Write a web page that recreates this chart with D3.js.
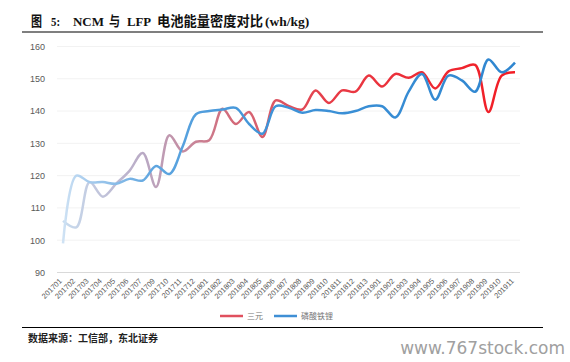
<!DOCTYPE html>
<html><head><meta charset="utf-8">
<script src="https://cdn.jsdelivr.net/npm/d3@7"></script>
<style>body{margin:0;background:#fff;}svg{display:block;}</style>
</head><body>
<script>
const categories = ["201701","201702","201703","201704","201705","201706","201707","201709","201710","201711","201712","201801","201802","201803","201804","201805","201806","201807","201808","201809","201810","201811","201812","201813","201901","201902","201903","201904","201905","201906","201907","201908","201909","201910","201911"];
const ncm = [106,104,118,113.5,117.5,121.5,127,116.5,132.5,127.5,130.5,131,140.7,136,139.7,132,143.3,141.5,140.5,146.4,142.5,146.4,146,151,147.6,151.5,150.3,152,147,152.3,153.3,154.3,139.7,151,152];
const lfp = [99,120,118,118,117.5,119,118.5,123,120.5,129,139,140,140.5,141,136,133,141.5,141,139.5,140.3,140,139.3,140,141.5,141.5,138,146,151.5,143.5,151,149.5,146,156,152,155];
const yTicks = [90,100,110,120,130,140,150,160];
const seriesNames = ["三元","磷酸铁锂"];
const titleParts = [["图",31,11],["5:",51,9],["NCM",73,31],["与",109,11],["LFP",127,24],["电池能量密度对比",157,106],["(wh/kg)",265,0]];

const W = 570, H = 362;
const svg = d3.select("body").append("svg").attr("width", W).attr("height", H);

const x = d3.scalePoint().domain(categories).range([63, 515]);
const y = d3.scaleLinear().domain([90,160]).range([272.5, 46.5]);

// title
const t = svg.append("text").attr("y", 25.5)
  .attr("font-family", "'Liberation Serif','Noto Sans CJK SC',serif")
  .attr("font-weight", "bold").attr("font-size", 13.5).attr("fill", "#111");
titleParts.forEach(p => {
  const ts = t.append("tspan").attr("x", p[1]).text(p[0]);
  if (p[2]) ts.attr("textLength", p[2]).attr("lengthAdjust","spacingAndGlyphs");
});
svg.append("line").attr("x1", 22).attr("x2", 543).attr("y1", 32).attr("y2", 32)
  .attr("stroke", "#000").attr("stroke-width", 1.2);

// gridlines
svg.append("g").selectAll("line").data(yTicks.slice(1)).join("line")
  .attr("x1", 57).attr("x2", 520)
  .attr("y1", d => y(d)).attr("y2", d => y(d))
  .attr("stroke", "#f2f2f2").attr("stroke-width", 1);

// y axis
const yAxis = svg.append("g").attr("transform", "translate(57,0)")
  .call(d3.axisLeft(y).tickValues(yTicks).tickSize(0).tickPadding(12));
yAxis.select(".domain").remove();
yAxis.selectAll("text").attr("font-family", "'Liberation Sans',Arial,sans-serif")
  .attr("font-size", 9).attr("fill", "#595959");

// x axis
const xAxis = svg.append("g").attr("transform", "translate(0,272.5)")
  .call(d3.axisBottom(x).tickSize(0).tickPadding(0));
xAxis.select(".domain").attr("d", "M57,0H520").attr("stroke", "#d9d9d9").attr("stroke-width", 1);
xAxis.selectAll("text")
  .attr("font-family", "'Liberation Sans',Arial,sans-serif")
  .attr("font-size", 7.5).attr("fill", "#595959")
  .attr("text-anchor", "end")
  .attr("dy", 0).attr("y", 0)
  .attr("transform", "translate(-1,9) rotate(-45)");

// gradients
const defs = svg.append("defs");
function grad(id, stops) {
  const g = defs.append("linearGradient").attr("id", id)
    .attr("gradientUnits", "userSpaceOnUse")
    .attr("x1", 63).attr("x2", 515).attr("y1", 0).attr("y2", 0);
  stops.forEach(s => g.append("stop").attr("offset", s[0]).attr("stop-color", s[1]));
}
grad("gRed", [[0,"#c8dcef"],[0.18,"#b9a9c4"],[0.35,"#d07080"],[0.6,"#e83a45"],[1,"#f21c24"]]);
grad("gBlue", [[0,"#cfe2f4"],[0.05,"#a9cdee"],[0.2,"#5fa6e0"],[0.45,"#3f93d8"],[1,"#2f86d0"]]);

const line = d3.line().x((d,i) => x(categories[i])).y(d => y(d)).curve(d3.curveCatmullRom.alpha(0.5));

svg.append("path").datum(ncm).attr("d", line).attr("fill","none")
  .attr("stroke","url(#gRed)").attr("stroke-width",2.5).attr("stroke-linejoin","round");
svg.append("path").datum(lfp).attr("d", line).attr("fill","none")
  .attr("stroke","url(#gBlue)").attr("stroke-width",2.5).attr("stroke-linejoin","round");

// legend
const lg = svg.append("g").attr("font-family","'Noto Sans CJK SC',sans-serif").attr("font-size",8).attr("fill","#777");
const legendItems = [{name: seriesNames[0], color:"#e0505e", x:220},{name: seriesNames[1], color:"#3f8fd5", x:274}];
legendItems.forEach(it => {
  lg.append("line").attr("x1", it.x).attr("x2", it.x+23).attr("y1", 316).attr("y2", 316)
    .attr("stroke", it.color).attr("stroke-width", 2.5);
  lg.append("text").attr("x", it.x+27).attr("y", 319).text(it.name);
});

// bottom rule and source
svg.append("line").attr("x1", 22).attr("x2", 543).attr("y1", 327.5).attr("y2", 327.5)
  .attr("stroke", "#000").attr("stroke-width", 1.2);
svg.append("text").attr("x", 28).attr("y", 342)
  .attr("font-family", "'Noto Sans CJK SC',serif").attr("font-weight","bold")
  .attr("font-size", 10).attr("fill", "#222")
  .text("数据来源：工信部，东北证券");
svg.append("text").attr("x", 565).attr("y", 354).attr("text-anchor","end")
  .attr("font-family", "'DejaVu Sans',sans-serif").attr("font-size", 17).attr("fill", "#a0a0a0")
  .text("www.767stock.com");
</script>
</body></html>
